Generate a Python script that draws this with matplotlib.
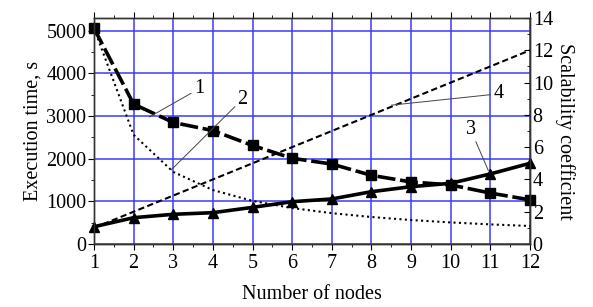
import matplotlib.pyplot as plt

plt.rcParams['font.family'] = ['Liberation Serif', 'DejaVu Serif']
plt.rcParams['font.size'] = 14.5

nodes = [1, 2, 3, 4, 5, 6, 7, 8, 9, 10, 11, 12]
# 1 - real execution time, s
time_real = [5060, 3280, 2850, 2660, 2310, 2010, 1875, 1610, 1455, 1385, 1195, 1035]
# 2 - ideal execution time, s
time_ideal = [5060, 2560, 1690, 1265, 1012, 843, 723, 633, 562, 506, 460, 422]
# 3 - real scalability coefficient
scal_real = [1.07, 1.63, 1.84, 1.94, 2.27, 2.62, 2.79, 3.24, 3.55, 3.76, 4.34, 5.0]
# 4 - ideal scalability coefficient
scal_ideal = [1, 2, 3, 4, 5, 6, 7, 8, 9, 10, 11, 12]

fig = plt.figure(figsize=(5.93, 3.07), dpi=100)
ax = fig.add_axes([0.1585, 0.2052, 0.7352, 0.7362])
ax2 = ax.twinx()

ax.grid(True, color='#3a3aff', lw=1.1)
ax.set_axisbelow(True)

ax.plot(nodes, time_ideal, color='black', ls=(0, (1, 1.6)), lw=1.5)
ax.plot(nodes, time_real, color='black', lw=2.6, ls=(0, (5, 1.3)),
        marker='s', ms=6.5, clip_on=False)
ax2.plot(nodes, scal_ideal, color='black', lw=1.5, ls=(0, (3, 1.6)), clip_on=False)
ax2.plot(nodes, scal_real, color='black', lw=2.6, marker='^', ms=7.5, clip_on=False)

ax.set_xlim(1, 12)
ax.set_ylim(0, 5300)
ax2.set_ylim(0, 14)
ax.set_xticks(nodes)
ax.set_xticks([n + 0.5 for n in nodes[:-1]], minor=True)
ax.set_yticks([0, 1000, 2000, 3000, 4000, 5000])
ax.set_yticks([500, 1500, 2500, 3500, 4500], minor=True)
ax2.set_yticks([0, 2, 4, 6, 8, 10, 12, 14])
ax2.set_yticks([1, 3, 5, 7, 9, 11, 13], minor=True)

ax.tick_params(axis='x', which='both', direction='out', top=True, pad=3)
ax.tick_params(axis='x', which='major', length=4.5)
ax.tick_params(axis='x', which='minor', length=2.5)
ax.tick_params(axis='y', which='major', direction='out', length=4.5, pad=1)
ax.tick_params(axis='y', which='minor', direction='out', length=2.5)
ax2.tick_params(axis='y', which='major', direction='in', length=4.5, pad=2)
ax2.tick_params(axis='y', which='minor', direction='in', length=2.5)

for a in (ax, ax2):
    for s in a.spines.values():
        s.set_color('#333333')
        s.set_linewidth(1.0)

ax.set_xlabel('Number of nodes', labelpad=8)
ax.set_ylabel('Execution time, s', labelpad=3)
ax2.set_ylabel('Scalability coefficient', rotation=270, labelpad=16)

# curve labels with leader lines
leader = dict(arrowstyle='-', color='#444444', lw=0.7, shrinkA=0, shrinkB=0)
ax.annotate('1', xy=(2.4, 2980), xytext=(3.65, 3640), textcoords='data',
            ha='center', va='center', arrowprops=leader)
ax.annotate('2', xy=(2.95, 1740), xytext=(4.75, 3400), textcoords='data',
            ha='center', va='center', arrowprops=leader)
ax2.annotate('4', xy=(8.5, 8.6), xytext=(11.2, 9.3), textcoords='data',
             ha='center', va='center', arrowprops=leader)
ax2.annotate('3', xy=(10.95, 4.55), xytext=(10.5, 7.1), textcoords='data',
             ha='center', va='center', arrowprops=leader)

fig.savefig('out.png', dpi=100)
